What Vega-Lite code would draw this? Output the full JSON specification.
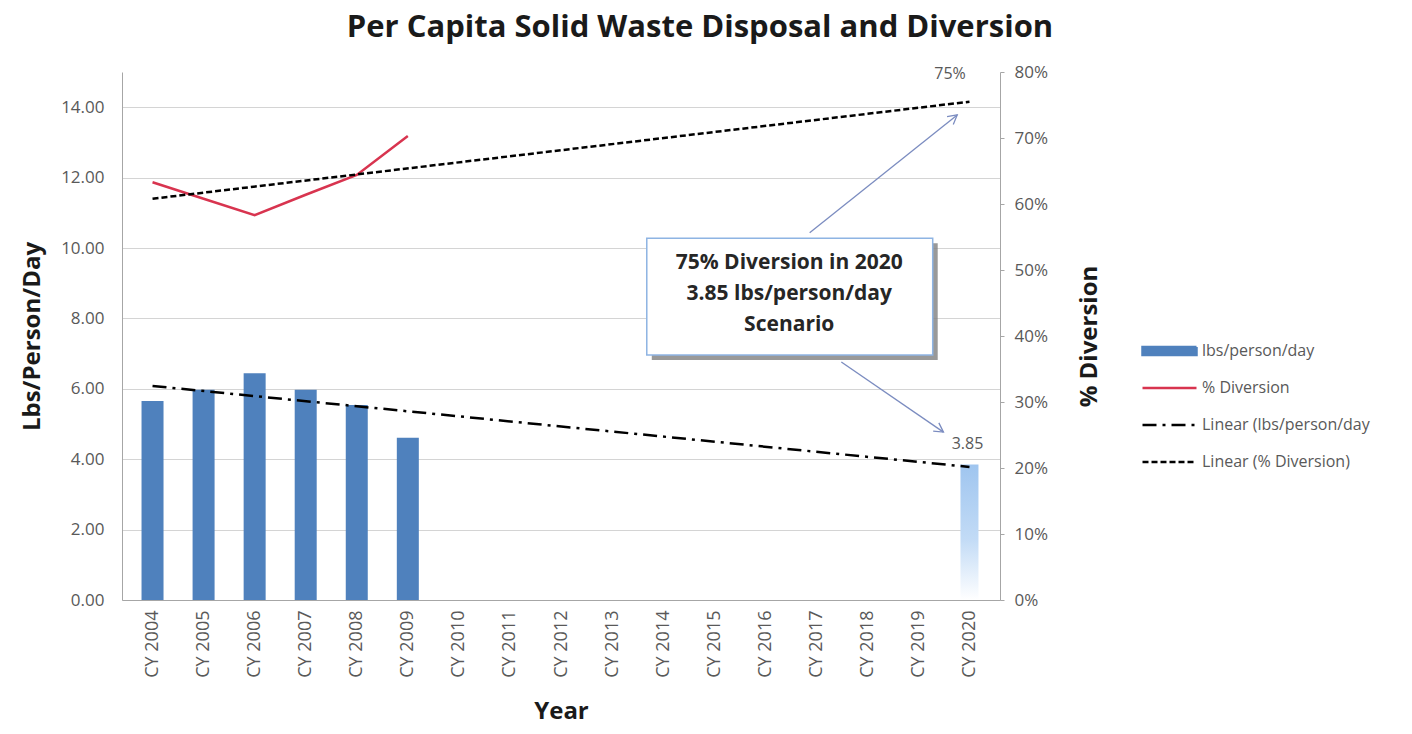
{
  "$schema": "https://vega.github.io/schema/vega-lite/v6.json",
  "width": 878,
  "height": 528,
  "autosize": {"type": "none"},
  "padding": {"left": 122, "top": 72, "right": 412, "bottom": 134},
  "background": "white",
  "title": {
    "text": "Per Capita Solid Waste Disposal and Diversion",
    "font": "Open Sans",
    "fontSize": 31,
    "fontWeight": "bold",
    "color": "#1a1a1a",
    "anchor": "middle",
    "frame": "group",
    "dx": 139,
    "offset": -5,
    "baseline": "alphabetic"
  },
  "datasets": {
    "bars": [
      {"year": 2004, "lbs": 5.65},
      {"year": 2005, "lbs": 5.97},
      {"year": 2006, "lbs": 6.44},
      {"year": 2007, "lbs": 5.97},
      {"year": 2008, "lbs": 5.54},
      {"year": 2009, "lbs": 4.61},
      {"year": 2020, "lbs": 3.85}
    ],
    "diversion": [
      {"year": 2004, "pct": 0.633},
      {"year": 2005, "pct": 0.608},
      {"year": 2006, "pct": 0.583},
      {"year": 2007, "pct": 0.614},
      {"year": 2008, "pct": 0.644},
      {"year": 2009, "pct": 0.703}
    ],
    "trendLbs": [
      {"year": 2004, "lbs": 6.08},
      {"year": 2020, "lbs": 3.78}
    ],
    "trendPct": [
      {"year": 2004, "pct": 0.608},
      {"year": 2020, "pct": 0.755}
    ],
    "box": [
      {"x0": 2013.68, "x1": 2019.28, "y0": 6.96, "y1": 10.28, "xc": 2016.47, "yc": 9.57, "label": "75% Diversion in 2020\n3.85 lbs/person/day\nScenario"}
    ],
    "arrows": [
      {"id": "a1", "x0": 2016.87, "y0": 10.43, "x1": 2019.76, "y1": 13.78},
      {"id": "a2", "x0": 2017.49, "y0": 6.76, "x1": 2019.49, "y1": 4.77}
    ],
    "notes": [
      {"x": 2019.62, "y": 14.95, "label": "75%"}
    ]
  },
  "layer": [
    {
      "layer": [
        {
          "data": {"name": "bars"},
          "transform": [{"filter": "datum.year < 2020"}],
          "mark": {"type": "bar", "size": 22},
          "encoding": {
            "x": {
              "field": "year", "type": "quantitative",
              "scale": {"domain": [2003.5, 2020.5], "nice": false, "zero": false},
              "title": "Year",
              "axis": {
                "values": [2004, 2005, 2006, 2007, 2008, 2009, 2010, 2011, 2012, 2013, 2014, 2015, 2016, 2017, 2018, 2019, 2020],
                "labelExpr": "'CY ' + datum.value",
                "labelAngle": 270,
                "labelAlign": "right",
                "labelBaseline": "middle",
                "labelPadding": 10,
                "labelFontSize": 18,
                "labelOverlap": false,
                "labelFlush": false,
                "ticks": false,
                "grid": false,
                "titleFontSize": 24,
                "titlePadding": 22
              }
            },
            "y": {
              "field": "lbs", "type": "quantitative",
              "scale": {"domain": [0, 15], "nice": false},
              "title": "Lbs/Person/Day",
              "axis": {
                "values": [0, 2, 4, 6, 8, 10, 12, 14],
                "format": ".2f",
                "grid": true,
                "ticks": false,
                "labelPadding": 18,
                "labelFontSize": 17,
                "titleFontSize": 24,
                "titlePadding": 16
              }
            },
            "color": {
              "datum": "lbs/person/day",
              "scale": {
                "domain": ["lbs/person/day", "% Diversion", "Linear (lbs/person/day", "Linear (% Diversion)"],
                "range": ["#4f81bd", "#d8344f", "#000000", "#000000"]
              },
              "legend": {
                "title": null,
                "orient": "none",
                "legendX": 1019,
                "legendY": 271,
                "padding": 0,
                "symbolSize": 2916,
                "clipHeight": 16,
                "rowPadding": 21,
                "labelOffset": 4,
                "labelFont": "Open Sans",
                "labelFontSize": 16,
                "labelColor": "#595959",
                "labelLimit": 300,
                "encode": {
                  "symbols": {
                    "update": {
                      "shape": {"signal": "datum.value === 'lbs/person/day' ? 'M-1,-0.15H1V0.15H-1Z' : 'M-1,0H1'"},
                      "fill": {"signal": "datum.value === 'lbs/person/day' ? '#4f81bd' : 'transparent'"},
                      "stroke": {"signal": "datum.value === 'lbs/person/day' ? 'transparent' : datum.value === '% Diversion' ? '#d8344f' : '#000000'"},
                      "strokeWidth": {"value": 2.5},
                      "strokeDash": {"signal": "datum.value === 'Linear (% Diversion)' ? [6,3] : datum.value === 'Linear (lbs/person/day' ? [14,6,3,6] : [1,0]"},
                      "opacity": {"value": 1}
                    }
                  }
                }
              }
            }
          }
        },
        {
          "data": {"name": "bars"},
          "transform": [{"filter": "datum.year == 2020"}],
          "mark": {
            "type": "bar",
            "size": 18,
            "color": {
              "gradient": "linear", "x1": 0, "y1": 0, "x2": 0, "y2": 1,
              "stops": [
                {"offset": 0, "color": "#9fc5ef"},
                {"offset": 0.55, "color": "#c2dbf6"},
                {"offset": 1, "color": "#ffffff"}
              ]
            }
          },
          "encoding": {
            "x": {"field": "year", "type": "quantitative", "scale": {"domain": [2003.5, 2020.5], "nice": false, "zero": false}, "title": "Year"},
            "y": {"field": "lbs", "type": "quantitative", "scale": {"domain": [0, 15], "nice": false}, "title": "Lbs/Person/Day"}
          }
        },
        {
          "data": {"name": "bars"},
          "transform": [{"filter": "datum.year == 2020"}],
          "mark": {"type": "text", "baseline": "bottom", "dy": -12, "dx": -2, "fontSize": 16, "color": "#595959", "font": "Open Sans"},
          "encoding": {
            "x": {"field": "year", "type": "quantitative", "scale": {"domain": [2003.5, 2020.5], "nice": false, "zero": false}, "title": "Year"},
            "y": {"field": "lbs", "type": "quantitative", "scale": {"domain": [0, 15], "nice": false}, "title": "Lbs/Person/Day"},
            "text": {"field": "lbs", "type": "quantitative", "format": ".2f"}
          }
        },
        {
          "data": {"name": "trendLbs"},
          "mark": {"type": "line", "strokeWidth": 2.5, "strokeDash": [14, 6, 3, 6]},
          "encoding": {
            "x": {"field": "year", "type": "quantitative", "scale": {"domain": [2003.5, 2020.5], "nice": false, "zero": false}, "title": "Year"},
            "y": {"field": "lbs", "type": "quantitative", "scale": {"domain": [0, 15], "nice": false}, "title": "Lbs/Person/Day"},
            "color": {"datum": "Linear (lbs/person/day"}
          }
        },
        {
          "data": {"name": "box"},
          "mark": {"type": "rect", "color": "#7f7f7f", "opacity": 0.8, "xOffset": 5, "x2Offset": 5, "yOffset": 5, "y2Offset": 5},
          "encoding": {
            "x": {"field": "x0", "type": "quantitative", "scale": {"domain": [2003.5, 2020.5], "nice": false, "zero": false}, "title": "Year"},
            "x2": {"field": "x1"},
            "y": {"field": "y1", "type": "quantitative", "scale": {"domain": [0, 15], "nice": false}, "title": "Lbs/Person/Day"},
            "y2": {"field": "y0"}
          }
        },
        {
          "data": {"name": "box"},
          "mark": {"type": "rect", "fill": "#ffffff", "stroke": "#8eb4e3", "strokeWidth": 1.5},
          "encoding": {
            "x": {"field": "x0", "type": "quantitative", "scale": {"domain": [2003.5, 2020.5], "nice": false, "zero": false}, "title": "Year"},
            "x2": {"field": "x1"},
            "y": {"field": "y1", "type": "quantitative", "scale": {"domain": [0, 15], "nice": false}, "title": "Lbs/Person/Day"},
            "y2": {"field": "y0"}
          }
        },
        {
          "data": {"name": "box"},
          "mark": {"type": "text", "lineBreak": "\n", "lineHeight": 31, "fontSize": 21, "fontWeight": "bold", "color": "#262626", "font": "Open Sans", "align": "center", "baseline": "middle"},
          "encoding": {
            "x": {"field": "xc", "type": "quantitative", "scale": {"domain": [2003.5, 2020.5], "nice": false, "zero": false}, "title": "Year"},
            "y": {"field": "yc", "type": "quantitative", "scale": {"domain": [0, 15], "nice": false}, "title": "Lbs/Person/Day"},
            "text": {"field": "label"}
          }
        },
        {
          "data": {"name": "arrows"},
          "mark": {"type": "rule", "color": "#7b8cc0", "strokeWidth": 1.3},
          "encoding": {
            "x": {"field": "x0", "type": "quantitative", "scale": {"domain": [2003.5, 2020.5], "nice": false, "zero": false}, "title": "Year"},
            "x2": {"field": "x1"},
            "y": {"field": "y0", "type": "quantitative", "scale": {"domain": [0, 15], "nice": false}, "title": "Lbs/Person/Day"},
            "y2": {"field": "y1"}
          }
        },
        {
          "data": {"name": "arrows"},
          "transform": [{"filter": "datum.id == 'a1'"}],
          "mark": {"type": "point", "shape": "M-0.5,0.9L0,0L0.5,0.9", "filled": false, "stroke": "#7b8cc0", "strokeWidth": 1.3, "size": 400, "angle": 51.6, "opacity": 1},
          "encoding": {
            "x": {"field": "x1", "type": "quantitative", "scale": {"domain": [2003.5, 2020.5], "nice": false, "zero": false}, "title": "Year"},
            "y": {"field": "y1", "type": "quantitative", "scale": {"domain": [0, 15], "nice": false}, "title": "Lbs/Person/Day"}
          }
        },
        {
          "data": {"name": "arrows"},
          "transform": [{"filter": "datum.id == 'a2'"}],
          "mark": {"type": "point", "shape": "M-0.5,0.9L0,0L0.5,0.9", "filled": false, "stroke": "#7b8cc0", "strokeWidth": 1.3, "size": 400, "angle": 124.6, "opacity": 1},
          "encoding": {
            "x": {"field": "x1", "type": "quantitative", "scale": {"domain": [2003.5, 2020.5], "nice": false, "zero": false}, "title": "Year"},
            "y": {"field": "y1", "type": "quantitative", "scale": {"domain": [0, 15], "nice": false}, "title": "Lbs/Person/Day"}
          }
        },
        {
          "data": {"name": "notes"},
          "mark": {"type": "text", "fontSize": 16, "color": "#595959", "font": "Open Sans", "align": "center", "baseline": "middle"},
          "encoding": {
            "x": {"field": "x", "type": "quantitative", "scale": {"domain": [2003.5, 2020.5], "nice": false, "zero": false}, "title": "Year"},
            "y": {"field": "y", "type": "quantitative", "scale": {"domain": [0, 15], "nice": false}, "title": "Lbs/Person/Day"},
            "text": {"field": "label"}
          }
        }
      ]
    },
    {
      "layer": [
        {
          "data": {"name": "diversion"},
          "mark": {"type": "line", "strokeWidth": 2.5},
          "encoding": {
            "x": {"field": "year", "type": "quantitative", "scale": {"domain": [2003.5, 2020.5], "nice": false, "zero": false}, "title": "Year"},
            "y": {
              "field": "pct", "type": "quantitative",
              "scale": {"domain": [0, 0.8], "nice": false},
              "title": "% Diversion",
              "axis": {
                "orient": "right",
                "values": [0, 0.1, 0.2, 0.3, 0.4, 0.5, 0.6, 0.7, 0.8],
                "format": ".0%",
                "grid": false,
                "ticks": true,
                "tickSize": 4,
                "labelPadding": 10,
                "labelFontSize": 17,
                "titleFontSize": 24,
                "titleAngle": 270,
                "titleBaseline": "top",
                "titlePadding": 30
              }
            },
            "color": {"datum": "% Diversion"}
          }
        },
        {
          "data": {"name": "trendPct"},
          "mark": {"type": "line", "strokeWidth": 2.5, "strokeDash": [6, 3]},
          "encoding": {
            "x": {"field": "year", "type": "quantitative", "scale": {"domain": [2003.5, 2020.5], "nice": false, "zero": false}, "title": "Year"},
            "y": {"field": "pct", "type": "quantitative", "scale": {"domain": [0, 0.8], "nice": false}, "title": "% Diversion"},
            "color": {"datum": "Linear (% Diversion)"}
          }
        }
      ]
    }
  ],
  "resolve": {"scale": {"y": "independent"}},
  "config": {
    "font": "Open Sans",
    "view": {"stroke": null},
    "axis": {
      "labelFont": "Open Sans",
      "titleFont": "Open Sans",
      "labelColor": "#595959",
      "titleColor": "#1a1a1a",
      "titleFontWeight": "bold",
      "domainColor": "#a6a6a6",
      "tickColor": "#a6a6a6",
      "gridColor": "#d4d4d4"
    }
  }
}
